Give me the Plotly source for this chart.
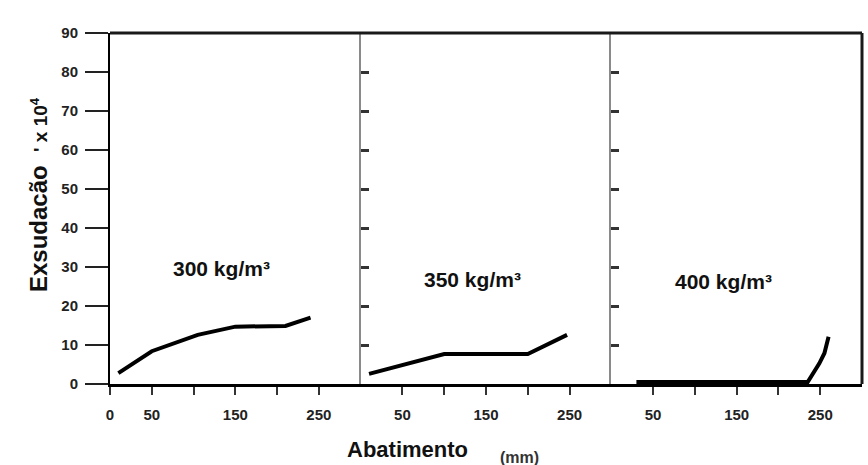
import plotly.graph_objects as go

# ---- data ----
panel_labels = ["300 kg/m³", "350 kg/m³", "400 kg/m³"]

x_300 = [10, 50, 105, 150, 210, 240]
y_300 = [2.8, 8.4, 12.6, 14.7, 14.9, 17.0]

x_350 = [10, 100, 200, 247]
y_350 = [2.6, 7.7, 7.7, 12.6]

x_400 = [30, 235, 249, 255, 260]
y_400 = [0.5, 0.5, 5.3, 7.9, 12.1]

y_ticks = [0, 10, 20, 30, 40, 50, 60, 70, 80, 90]
x_ticks_p1 = [0, 50, 100, 150, 200, 250]
x_text_p1 = ["0", "50", "", "150", "", "250"]
x_ticks_p2 = [50, 100, 150, 200, 250]
x_text_p2 = ["50", "", "150", "", "250"]

label_pos = [(134, 29.7), (134, 26.7), (134, 26.4)]

FONT = "Liberation Sans, Arial, sans-serif"

fig = go.Figure()
series = [(x_300, y_300, "x", "y"), (x_350, y_350, "x2", "y2"), (x_400, y_400, "x3", "y3")]
for xs, ys, xa, ya in series:
    fig.add_trace(go.Scatter(x=xs, y=ys, xaxis=xa, yaxis=ya, mode="lines",
                             line=dict(color="black", width=4, shape="linear"),
                             showlegend=False, hoverinfo="skip"))

tickfont = dict(family=FONT, size=15, color="#222", weight="bold")

def xax(domain, anchor, vals, texts):
    return dict(domain=domain, anchor=anchor, range=[0, 300], showgrid=False, zeroline=False,
                showline=True, linecolor="black", linewidth=3,
                ticks="outside", ticklen=8, tickwidth=2, tickcolor="#333",
                tickvals=vals, ticktext=texts, tickfont=tickfont, ticklabelstandoff=7,
                automargin=False, fixedrange=True)

def yax_inner(anchor):
    return dict(domain=[0, 1], anchor=anchor, range=[0, 90], showgrid=False, zeroline=False,
                showline=True, linecolor="#8a8a8a", linewidth=2,
                ticks="inside", ticklen=8, tickwidth=2.5, tickcolor="#333",
                tickvals=y_ticks, showticklabels=False, automargin=False, fixedrange=True)

fig.update_layout(
    width=868, height=465,
    margin=dict(l=110, r=6, t=33, b=81, autoexpand=False),
    paper_bgcolor="white", plot_bgcolor="white",
    xaxis=xax([0, 1/3], "y", x_ticks_p1, x_text_p1),
    xaxis2=xax([1/3, 2/3], "y2", x_ticks_p2, x_text_p2),
    xaxis3=xax([2/3, 1], "y3", x_ticks_p2, x_text_p2),
    yaxis=dict(domain=[0, 1], anchor="x", range=[0, 90], showgrid=False, zeroline=False,
               showline=True, linecolor="black", linewidth=2,
               ticks="outside", ticklen=23, tickwidth=1.5, tickcolor="#222",
               tickvals=y_ticks, tickfont=tickfont, ticklabelstandoff=4,
               automargin=False, fixedrange=True),
    yaxis2=yax_inner("x2"),
    yaxis3=yax_inner("x3"),
)

# frame: top and right borders
fig.add_shape(type="line", xref="paper", yref="paper", x0=0, x1=1, y0=1, y1=1,
              line=dict(color="#1a1a1a", width=3))
fig.add_shape(type="line", xref="paper", yref="paper", x0=1, x1=1, y0=0, y1=1,
              line=dict(color="#1a1a1a", width=3))

# panel labels
for (lx, ly), txt, xr, yr in zip(label_pos, panel_labels, ["x", "x2", "x3"], ["y", "y2", "y3"]):
    fig.add_annotation(x=lx, y=ly, xref=xr, yref=yr, text=txt, showarrow=False,
                       font=dict(family=FONT, size=21, color="#111", weight="bold"))

# axis titles
fig.add_annotation(x=(38 - 110) / 752, y=(384 - 195) / 351, xref="paper", yref="paper",
                   text="Exsudacão  <span style='font-size:19px'>' x 10<sup>4</sup></span>",
                   textangle=-90, showarrow=False, xanchor="center", yanchor="middle",
                   font=dict(family=FONT, size=24, color="#111", weight="bold"))
fig.add_annotation(x=(407 - 110) / 752, y=-(449 - 384) / 351, xref="paper", yref="paper",
                   text="Abatimento", showarrow=False, xanchor="center", yanchor="middle",
                   font=dict(family=FONT, size=22, color="#111", weight="bold"))
fig.add_annotation(x=(519 - 110) / 752, y=-(457 - 384) / 351, xref="paper", yref="paper",
                   text="(mm)", showarrow=False, xanchor="center", yanchor="middle",
                   font=dict(family=FONT, size=16, color="#333", weight="bold"))

fig.write_html("out.html", config={"displayModeBar": False},
               post_script="document.body.style.margin='0';document.body.style.overflow='hidden';")
